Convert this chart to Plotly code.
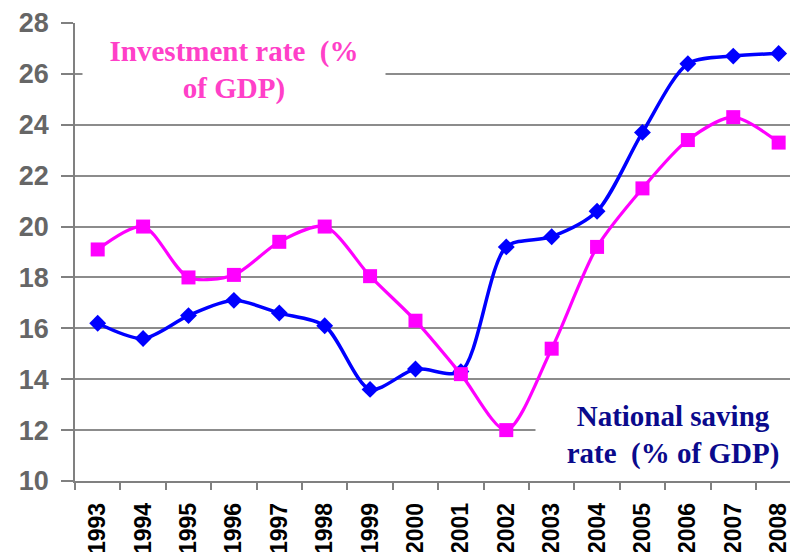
import plotly.graph_objects as go

years = ["1993", "1994", "1995", "1996", "1997", "1998", "1999", "2000",
         "2001", "2002", "2003", "2004", "2005", "2006", "2007", "2008"]
saving_rate = [16.2, 15.6, 16.5, 17.1, 16.6, 16.1, 13.6, 14.4,
               14.3, 19.2, 19.6, 20.6, 23.7, 26.4, 26.7, 26.8]
investment_rate = [19.1, 20.0, 18.0, 18.1, 19.4, 20.0, 18.05, 16.3,
                   14.2, 12.0, 15.2, 19.2, 21.5, 23.4, 24.3, 23.3]
y_ticks = [10, 12, 14, 16, 18, 20, 22, 24, 26, 28]

fig = go.Figure()
fig.add_trace(go.Scatter(
    x=years, y=saving_rate, mode="lines+markers",
    line=dict(color="#0000FF", width=3.5, shape="spline", smoothing=0.8),
    marker=dict(symbol="diamond", size=13, color="#0000FF"),
    name="National saving rate", showlegend=False))
fig.add_trace(go.Scatter(
    x=years, y=investment_rate, mode="lines+markers",
    line=dict(color="#FF00FF", width=3.2, shape="spline", smoothing=0.8),
    marker=dict(symbol="square", size=14, color="#FF00FF"),
    name="Investment rate", showlegend=False))

serif = "Liberation Serif, Times New Roman, serif"
fig.add_annotation(
    xref="paper", yref="y", x=0.2225, y=26.15,
    xanchor="center", yanchor="middle",
    text="Investment rate  (%<br>of GDP)",
    showarrow=False, align="center",
    font=dict(family=serif, size=29, color="#FF40C8", weight="bold"),
    bgcolor="white", width=300, height=76)
fig.add_annotation(
    xref="paper", yref="y", x=0.836, y=11.8,
    xanchor="center", yanchor="middle",
    text="National saving<br>rate  (% of GDP)",
    showarrow=False, align="center",
    font=dict(family=serif, size=29, color="#0A0A8C", weight="bold"),
    bgcolor="white", width=272, height=76)

fig.update_layout(
    width=790, height=552,
    margin=dict(l=75, r=0, t=23, b=71, autoexpand=False),
    plot_bgcolor="white", paper_bgcolor="white",
    xaxis=dict(
        type="category", range=[-0.5, 15.25],
        showgrid=False, showline=True, linecolor="#808080", linewidth=1.5,
        ticks="outside", ticklen=7, tickcolor="#808080", tickwidth=1.5,
        tickson="boundaries", tickangle=-90, ticklabelstandoff=11,
        tickfont=dict(family="Liberation Sans, Arial, sans-serif", size=23,
                      color="black", weight="bold"),
        automargin=False),
    yaxis=dict(
        range=[10, 28], tickvals=y_ticks,
        showgrid=True, gridcolor="#8c8c8c", gridwidth=1.5,
        showline=True, linecolor="#808080", linewidth=1.5,
        ticks="outside", ticklen=12, tickcolor="#808080", tickwidth=1.5,
        ticklabelstandoff=7,
        tickfont=dict(family="Liberation Sans, Arial, sans-serif", size=27,
                      color="#666666", weight="bold"),
        zeroline=False, automargin=False),
)

fig.write_html("out.html", config={"displayModeBar": False},
               post_script="document.body.style.margin='0';document.body.style.overflow='hidden';")
